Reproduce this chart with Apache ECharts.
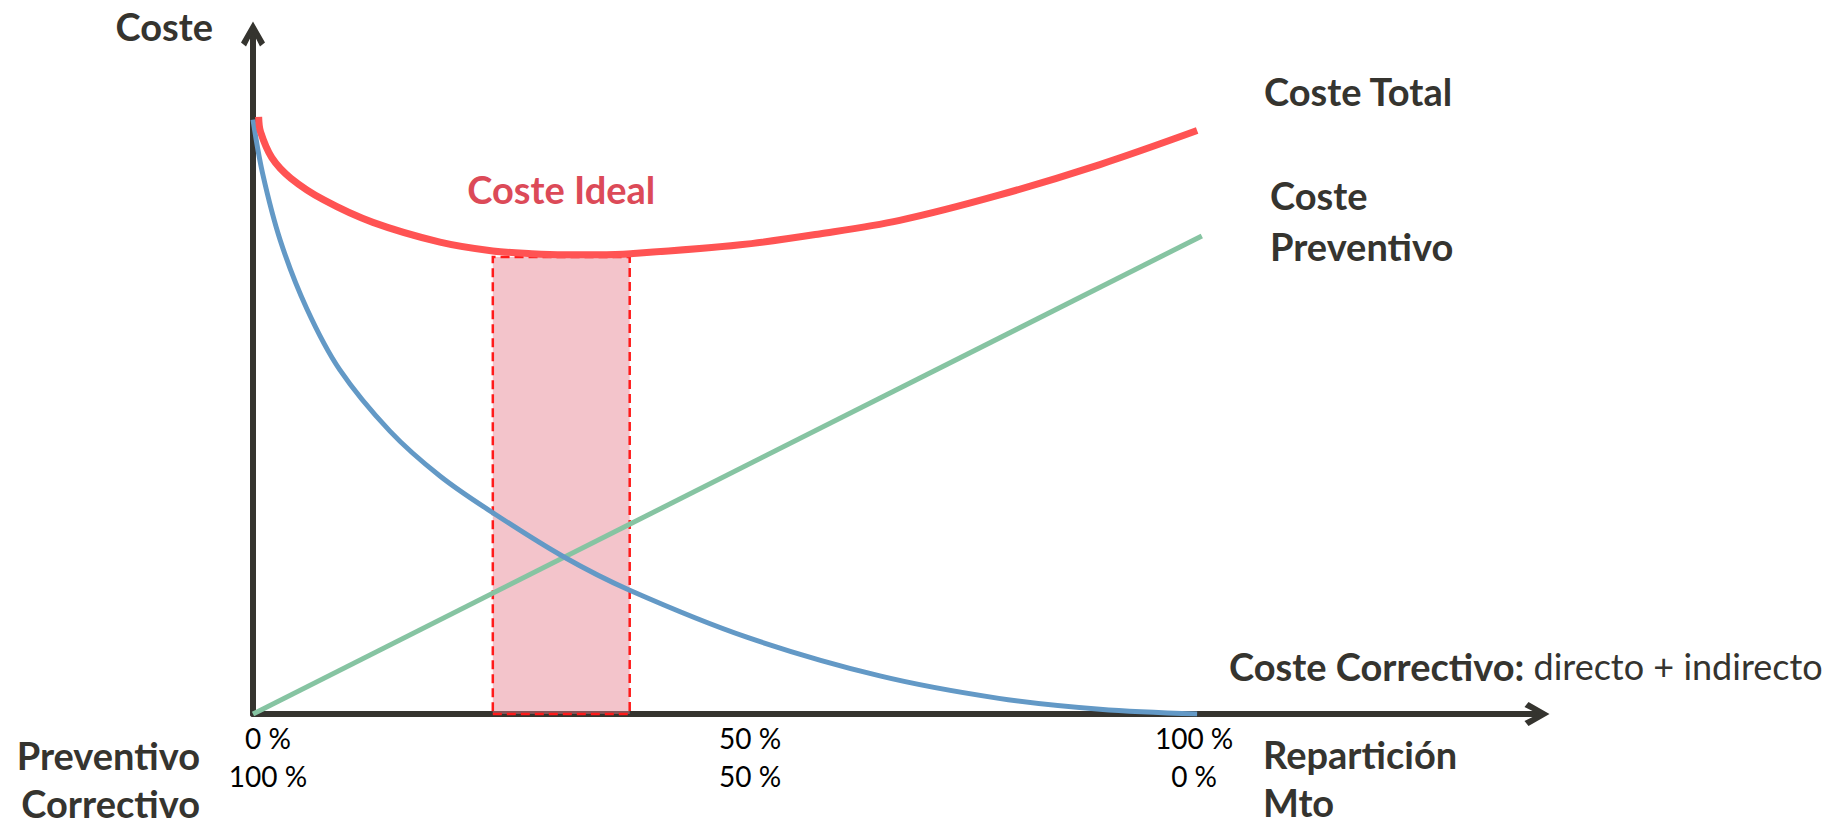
<!DOCTYPE html>
<html>
<head>
<meta charset="utf-8">
<script src="https://cdn.jsdelivr.net/npm/echarts@6/dist/echarts.min.js"></script>
<style>
  html, body { margin: 0; padding: 0; background: #ffffff; }
  #chart { width: 1835px; height: 825px; }
</style>
</head>
<body>
<div id="chart"></div>
<script>
// Horizontal axis: share of preventive maintenance (%); corrective share is 100 - x
const xTicks = [0, 50, 100];

// Cost curves as [preventive %, cost]
const totalCost = [
  [0.6, 87.8], [0.8, 85.6], [2, 81.8], [4, 78.8], [7.5, 75.6], [12.7, 72.3],
  [19.8, 69.4], [25.4, 68.1], [29.5, 67.7], [33, 67.55], [36.5, 67.55], [40, 67.7],
  [51.6, 69.0], [60, 70.6], [68.5, 72.6], [79, 76.3], [89.7, 80.8], [100, 85.8]
];
const correctiveCost = [
  [0, 87.4], [1, 79.6], [2.9, 69.6], [5.7, 59.6], [9.2, 50.6], [14.5, 41.6],
  [19.8, 35.0], [25.4, 29.6], [32.8, 23.2], [39.9, 18.2], [52.3, 11.3],
  [66.4, 5.6], [79, 2.3], [89.7, 0.7], [100, 0]
];
const preventiveCost = [[0, 0], [100.5, 70.3]];

// Optimal zone: preventive share range and the cost level it reaches
const idealBand = [25.4, 39.9];
const idealTop = 67.2;

const INK = '#35342f';
const FONT = 'Lato';
// Open chevron used as the arrow head of both axes (drawn pointing up)
const ARROW = 'path://M12,0 L24,21 L19,25 L12,11 L5,25 L0,21 Z';

const tickStyle = (padding) => ({
  fontFamily: FONT, fontSize: 28, color: '#000000', lineHeight: 38, padding: padding
});

const chart = echarts.init(document.getElementById('chart'), null, { renderer: 'svg' });

chart.setOption({
  animation: false,
  backgroundColor: '#ffffff',
  grid: { left: 253, right: 298, top: 34, bottom: 111 },
  xAxis: {
    type: 'value', min: 0, max: 136, interval: 50,
    splitLine: { show: false },
    axisTick: { show: false },
    axisLine: {
      onZero: false,
      symbol: ['none', ARROW], symbolSize: [24, 26],
      lineStyle: { color: INK, width: 6 }
    },
    axisLabel: {
      showMaxLabel: false,
      margin: 5,
      formatter: (v) => {
        if (!xTicks.includes(v)) return '';
        const k = 't' + v;
        return '{' + k + '|' + v + ' %}\n{' + k + '|' + (100 - v) + ' %}';
      },
      rich: {
        t0: tickStyle([0, 0, 0, 30]),
        t50: tickStyle([0, 0, 0, 50]),
        t100: tickStyle([0, 6, 0, 0])
      }
    }
  },
  yAxis: {
    type: 'value', min: 0, max: 100,
    splitLine: { show: false },
    axisTick: { show: false },
    axisLabel: { show: false },
    axisLine: {
      show: true,
      symbol: ['none', ARROW], symbolSize: [24, 26],
      lineStyle: { color: INK, width: 6 }
    }
  },
  series: [
    {
      name: 'Coste Preventivo', type: 'line', data: preventiveCost,
      symbol: 'none', z: 2,
      lineStyle: { color: '#86c4a2', width: 5 }
    },
    {
      name: 'Coste Correctivo', type: 'line', data: correctiveCost,
      smooth: 0.35, symbol: 'none', z: 2,
      lineStyle: { color: '#6399c6', width: 5 }
    },
    {
      name: 'Coste Ideal', type: 'line', data: [], z: 3,
      markArea: {
        silent: true,
        itemStyle: {
          color: 'rgba(228,125,140,0.45)',
          borderColor: '#ff1a1a', borderWidth: 2.5, borderType: [9, 5]
        },
        label: {
          show: true, position: 'top', distance: 48,
          formatter: 'Coste Ideal',
          fontFamily: FONT, fontWeight: 'bold', fontSize: 38, lineHeight: 38,
          color: '#dc4a58'
        },
        data: [[
          { xAxis: idealBand[0], yAxis: 0 },
          { xAxis: idealBand[1], yAxis: idealTop }
        ]]
      }
    },
    {
      name: 'Coste Total', type: 'line', data: totalCost,
      smooth: 0.35, symbol: 'none', z: 4,
      lineStyle: { color: '#ff5353', width: 7 }
    }
  ],
  graphic: [
    {
      type: 'text', x: 213, y: 26,
      style: { text: 'Coste', align: 'right', verticalAlign: 'middle',
        fontFamily: FONT, fontWeight: 'bold', fontSize: 38, fill: INK }
    },
    {
      type: 'text', x: 1264, y: 91,
      style: { text: 'Coste Total', align: 'left', verticalAlign: 'middle',
        fontFamily: FONT, fontWeight: 'bold', fontSize: 38, fill: INK }
    },
    {
      type: 'text', x: 1270, y: 220,
      style: { text: 'Coste\nPreventivo', align: 'left', verticalAlign: 'middle',
        fontFamily: FONT, fontWeight: 'bold', fontSize: 38, lineHeight: 51, fill: INK }
    },
    {
      type: 'text', x: 1229, y: 666,
      style: {
        text: '{b|Coste Correctivo:} {r|directo + indirecto}',
        align: 'left', verticalAlign: 'middle',
        fontFamily: FONT, fontSize: 36, fill: INK,
        rich: {
          b: { fontFamily: FONT, fontWeight: 'bold', fontSize: 38, color: INK },
          r: { fontFamily: FONT, fontSize: 36, color: INK }
        }
      }
    },
    {
      type: 'text', x: 1263, y: 778,
      style: { text: 'Repartición\nMto', align: 'left', verticalAlign: 'middle',
        fontFamily: FONT, fontWeight: 'bold', fontSize: 38, lineHeight: 48, fill: INK }
    },
    {
      type: 'text', x: 200, y: 779,
      style: { text: 'Preventivo\nCorrectivo', align: 'right', verticalAlign: 'middle',
        fontFamily: FONT, fontWeight: 'bold', fontSize: 38, lineHeight: 48, fill: INK }
    }
  ]
});
</script>
</body>
</html>
